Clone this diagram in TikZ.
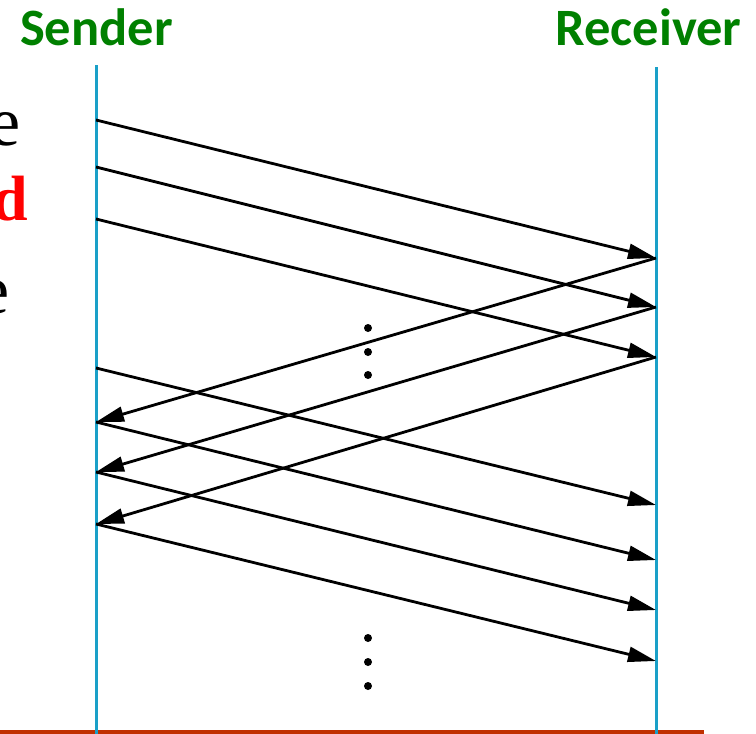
\documentclass[tikz,border=0pt]{standalone}
\usepackage{fontspec}
\setmainfont{Liberation Serif}
\newfontfamily\lblfont{Carlito}
\usetikzlibrary{arrows.meta}
\definecolor{lifeblue}{RGB}{26,160,200}
\definecolor{lblgreen}{RGB}{0,128,0}
\definecolor{baseline}{RGB}{192,48,0}
\tikzset{
  lifeline/.style={draw=lifeblue,line width=3pt},
  msg/.style={draw=black,line width=2.8pt,-{Triangle[length=28pt,width=15pt]}},
  actor/.style={text=lblgreen,font=\lblfont\bfseries\fontsize{52.5}{52.5}\selectfont,inner sep=0pt,anchor=base},
  dotmark/.style={circle,fill=black,inner sep=0pt,minimum size=8pt},
  cut/.style={inner sep=0pt,anchor=base east}
}
\begin{document}
\begin{tikzpicture}[x=1pt,y=-1pt]
\useasboundingbox (0,0) rectangle (756,734);
\clip (0,0) rectangle (756,734);
% labels
\node[actor] (snd) at (96.5,45) {Sender};
\node[actor] (rcv) at (648.5,45) {Receiver};
% cut-off letters at the left
\node[cut,font=\fontsize{70}{70}\selectfont] (le1) at (21,145) {e};
\node[cut,text=red,font=\bfseries\fontsize{64}{64}\selectfont] (ld) at (28,220) {d};
\node[cut,font=\fontsize{70}{70}\selectfont] (le2) at (10,313) {e};
% lifelines
\coordinate (stop) at (96,65);
\coordinate (sbot) at (96,734);
\coordinate (rtop) at (656,67);
\coordinate (rbot) at (656,734);
\draw[draw=baseline,line width=4.5pt] (0,732) -- (704,732);
\draw[lifeline] (stop) -- (sbot);
\draw[lifeline] (rtop) -- (rbot);
% sender points
\coordinate (s1) at (96,120);
\coordinate (s2) at (96,167);
\coordinate (s3) at (96,219);
\coordinate (s4) at (96,368);
\coordinate (s5) at (96,422);
\coordinate (s6) at (96,472);
\coordinate (s7) at (96,524);
% receiver points
\coordinate (r1) at (656,258);
\coordinate (r2) at (656,307);
\coordinate (r3) at (656,357);
\coordinate (r4) at (656,505);
\coordinate (r5) at (656,560);
\coordinate (r6) at (656,610);
\coordinate (r7) at (656,661);
% data
\draw[msg] (s1) -- (r1);
\draw[msg] (s2) -- (r2);
\draw[msg] (s3) -- (r3);
\draw[msg] (s4) -- (r4);
\draw[msg] (s5) -- (r5);
\draw[msg] (s6) -- (r6);
\draw[msg] (s7) -- (r7);
% acks
\draw[msg] (r1) -- (s5);
\draw[msg] (r2) -- (s6);
\draw[msg] (r3) -- (s7);
% dots
\node[dotmark] (d1) at (368,328) {};
\node[dotmark] (d2) at (368,352) {};
\node[dotmark] (d3) at (368,375) {};
\node[dotmark] (d4) at (368,638) {};
\node[dotmark] (d5) at (368,662) {};
\node[dotmark] (d6) at (368,686) {};
\end{tikzpicture}
\end{document}
